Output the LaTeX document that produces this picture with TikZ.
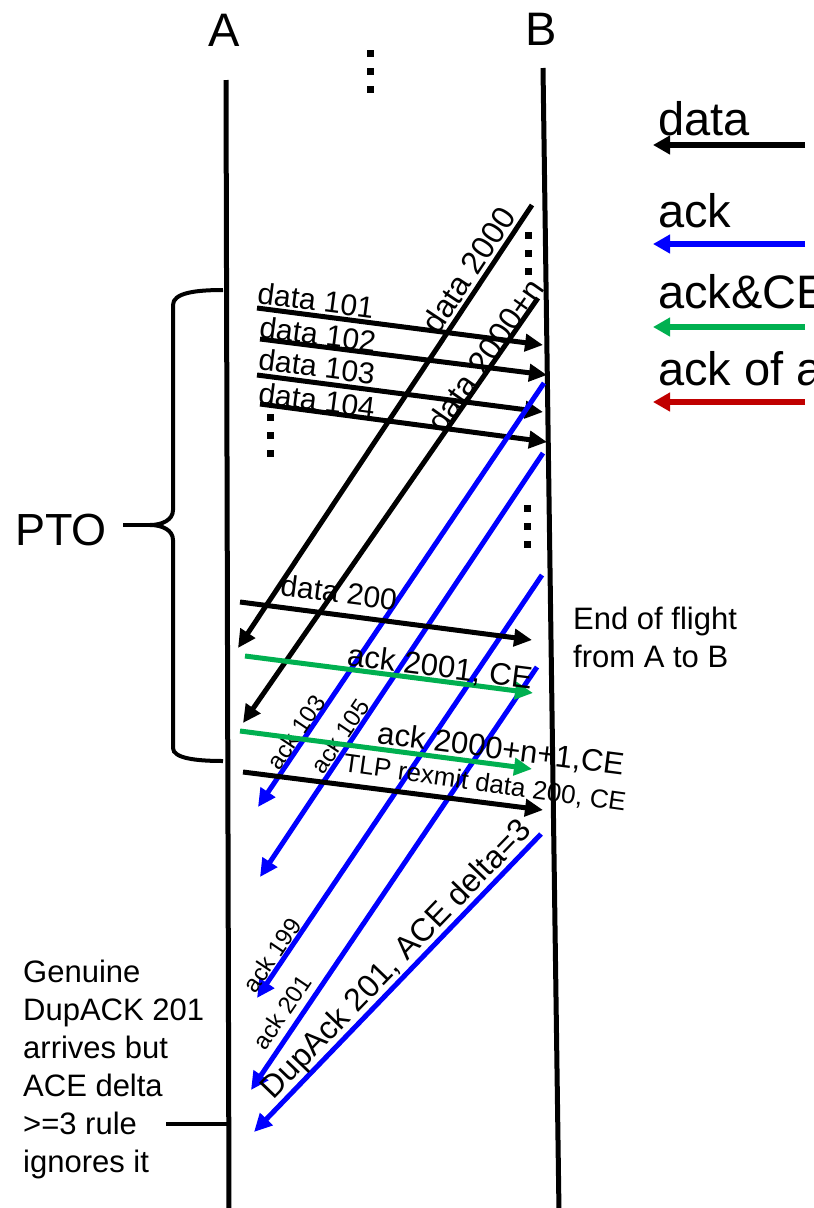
\documentclass[tikz,border=0pt]{standalone}
\usepackage{fontspec}
\setmainfont{Liberation Sans}
\usetikzlibrary{arrows.meta}
\definecolor{ackblue}{RGB}{0,0,255}
\definecolor{cegreen}{RGB}{0,176,80}
\definecolor{ackred}{RGB}{192,0,0}
\newcommand\fsz[2]{\fontsize{#1}{#2}\selectfont}

\begin{document}
\begin{tikzpicture}[x=1pt,y=-1pt,
  life/.style={line width=5pt},
  msg/.style={line width=5pt,-{Triangle[length=18pt,width=17pt]}},
  datamsg/.style={msg,black},
  ackmsg/.style={msg,ackblue},
  cemsg/.style={msg,cegreen},
  legarrow/.style={line width=6.5pt,-{Triangle[length=17pt,width=18pt]}},
  lbl/.style={inner sep=0pt,text depth=0pt},
  biglbl/.style={lbl,font=\fsz{30}{36}},
  smalllbl/.style={lbl,font=\fsz{24}{28}},
  dotsq/.style={fill=black,minimum size=7pt,inner sep=0pt},
  note/.style={inner sep=0pt,align=left,font=\fsz{31}{38}},
  brace/.style={line width=4pt}]

\useasboundingbox (0,0) rectangle (814,1208);

% ---------- lifelines ----------
\node[inner sep=0pt,anchor=base,font=\fsz{47}{50}] (Alab) at (224,46) {A};
\node[inner sep=0pt,anchor=base,font=\fsz{47}{50}] (Blab) at (541,45) {B};
\coordinate (Atop) at (226,80);  \coordinate (Abot) at (229,1212);
\coordinate (Btop) at (543,68);  \coordinate (Bbot) at (559,1212);
\draw[life] (Atop) -- (Abot);
\draw[life] (Btop) -- (Bbot);

% ---------- ellipsis marks ----------
\foreach \i/\x/\y in {a/370/53,b/370/71,c/370/89,
                      d/528/235,e/528/253,f/528/271,
                      g/270/417,h/270/435,i/270/453,
                      j/527/508,k/527/526,l/527/544}
  \node[dotsq] (dot\i) at (\x,\y) {};

% ---------- legend ----------
\node[inner sep=0pt,anchor=base west,font=\fsz{47}{50}] (Ldata) at (658,135) {data};
\node[inner sep=0pt,anchor=base west,font=\fsz{47}{50}] (Lack)  at (658,227) {ack};
\node[inner sep=0pt,anchor=base west,font=\fsz{47}{50}] (Lce)   at (658,308) {ack\&CE};
\node[inner sep=0pt,anchor=base west,font=\fsz{47}{50}] (Lrd)   at (658,385) {ack of a};
\coordinate (l1s) at (805,145); \coordinate (l1e) at (653,145);
\coordinate (l2s) at (805,244); \coordinate (l2e) at (653,244);
\coordinate (l3s) at (805,327); \coordinate (l3e) at (653,327);
\coordinate (l4s) at (805,402); \coordinate (l4e) at (653,402);
\draw[legarrow,black]   (l1s) -- (l1e);
\draw[legarrow,ackblue] (l2s) -- (l2e);
\draw[legarrow,cegreen] (l3s) -- (l3e);
\draw[legarrow,ackred]  (l4s) -- (l4e);

% ---------- data from A to B ----------
\coordinate (d101s) at (257,308); \coordinate (d101e) at (543,345);
\coordinate (d102s) at (260,339); \coordinate (d102e) at (547,375);
\coordinate (d103s) at (257,375); \coordinate (d103e) at (543,412);
\coordinate (d104s) at (260,404); \coordinate (d104e) at (547,442);
\draw[datamsg] (d101s) -- (d101e);
\draw[datamsg] (d102s) -- (d102e);
\draw[datamsg] (d103s) -- (d103e);
\draw[datamsg] (d104s) -- (d104e);
\node[biglbl,rotate=-7.4] (t101) at (316,300) {data 101};
\node[biglbl,rotate=-7.4] (t102) at (318,334) {data 102};
\node[biglbl,rotate=-7.4] (t103) at (317,366) {data 103};
\node[biglbl,rotate=-7.4] (t104) at (317,400) {data 104};

% ---------- data from B to A ----------
\coordinate (d2000s) at (532,205); \coordinate (d2000e) at (238,648);
\coordinate (d2000ns) at (538,298); \coordinate (d2000ne) at (243,723);
\draw[datamsg] (d2000s) -- (d2000e);
\draw[datamsg] (d2000ns) -- (d2000ne);
\node[lbl,font=\fsz{32}{36},rotate=56.5] (t2000) at (468,270) {data 2000};
\node[lbl,font=\fsz{32}{36},rotate=55] (t2000n) at (485,355) {data 2000+n};

% ---------- acks from B to A ----------
\coordinate (a103s) at (544,383);  \coordinate (a103e) at (258,807);
\coordinate (a105s) at (543,453);  \coordinate (a105e) at (260,877);
\coordinate (a199s) at (542,575);  \coordinate (a199e) at (257,998);
\coordinate (a201s) at (537,667);  \coordinate (a201e) at (251,1090);
\coordinate (dups)  at (541,834);  \coordinate (dupe)  at (254,1132);
\draw[ackmsg] (a103s) -- (a103e);
\draw[ackmsg] (a105s) -- (a105e);
\draw[ackmsg] (a199s) -- (a199e);
\draw[ackmsg] (a201s) -- (a201e);
\draw[ackmsg] (dups) -- (dupe);
\node[smalllbl,rotate=56] (t103a) at (296,732) {ack 103};
\node[smalllbl,rotate=56] (t105a) at (340,736) {ack 105};
\node[smalllbl,rotate=56] (t199a) at (272,955) {ack 199};
\node[smalllbl,rotate=56] (t201a) at (282,1012) {ack 201};
\node[lbl,font=\fsz{32}{36},rotate=46] (tdup) at (395,958) {DupAck 201, ACE delta=3};

% ---------- late data / CE acks from A to B ----------
\coordinate (d200s) at (240,602); \coordinate (d200e) at (532,640);
\coordinate (g1s) at (245,656);   \coordinate (g1e) at (533,693);
\coordinate (g2s) at (240,731);   \coordinate (g2e) at (532,769);
\coordinate (tlps) at (243,772);  \coordinate (tlpe) at (543,810);
\draw[datamsg] (d200s) -- (d200e);
\draw[cemsg] (g1s) -- (g1e);
\draw[cemsg] (g2s) -- (g2e);
\draw[datamsg] (tlps) -- (tlpe);
\node[biglbl,rotate=-7.4] (t200) at (339,592) {data 200};
\node[lbl,font=\fsz{31}{36},rotate=-7.3] (tg1) at (440,666) {ack 2001, CE};
\node[lbl,font=\fsz{31}{36},rotate=-7.3] (tg2) at (501,748) {ack 2000+n+1,CE};
\node[lbl,font=\fsz{26}{30},rotate=-8] (ttlp) at (485,782) {TLP rexmit data 200, CE};

% ---------- PTO brace ----------
\node[inner sep=0pt,anchor=base west,font=\fsz{45}{50}] (pto) at (15,545) {PTO};
\coordinate (ptoline) at (123,525);
\coordinate (bracetip) at (150,525);
\draw[brace] (223,290) .. controls (195,290) and (173,293) .. (173,305)
  -- (173,510) .. controls (173,520) and (162,525) .. (bracetip)
  .. controls (162,525) and (173,530) .. (173,540)
  -- (173,748) .. controls (173,758) and (195,761) .. (223,761);
\draw[line width=3.5pt] (ptoline) -- (bracetip);

% ---------- notes ----------
\node[note,anchor=north west] (flight) at (573,607) {End of flight\\from A to B};
\node[note,anchor=north west] (genuine) at (23,960)
  {Genuine\\DupACK 201\\arrives but\\ACE delta\\>=3 rule\\ignores it};
\coordinate (gl) at (166,1124); \coordinate (gA) at (227,1124);
\draw[line width=4pt] (gl) -- (gA);

\end{tikzpicture}
\end{document}
